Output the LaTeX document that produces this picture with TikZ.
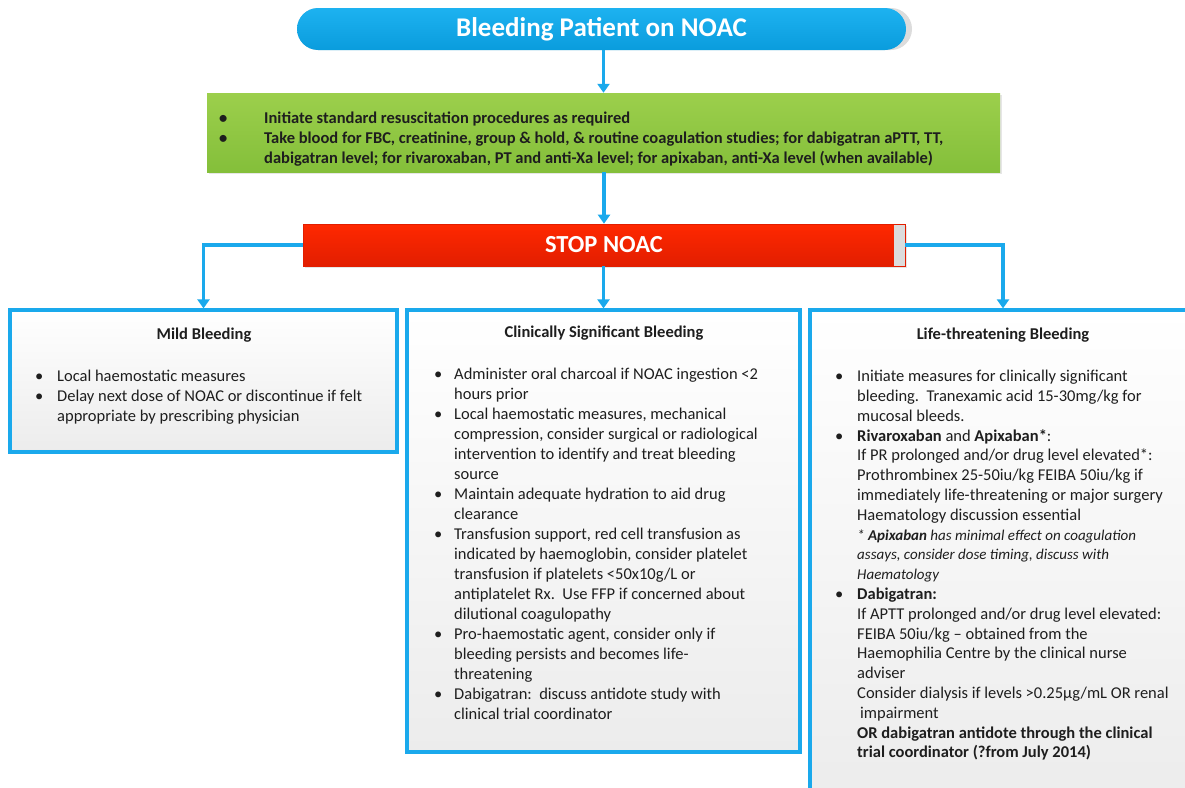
\documentclass[tikz,border=0pt]{standalone}
\usepackage{fontspec}
\setmainfont{Carlito}
\usetikzlibrary{arrows.meta,shadows}

\definecolor{titletop}{HTML}{1DB2F0}
\definecolor{titlebot}{HTML}{0A9CDD}
\definecolor{linkblue}{HTML}{1AA9EC}
\definecolor{greentop}{HTML}{9CCF4C}
\definecolor{greenbot}{HTML}{84BF3A}
\definecolor{redtop}{HTML}{FF2800}
\definecolor{redbot}{HTML}{E21E00}
\definecolor{capgray}{HTML}{DCDCDC}
\definecolor{boxgray}{HTML}{ECECEC}
\definecolor{inktext}{HTML}{1E1E1E}

\newcommand{\lifenote}[1]{{\fontsize{15}{19.8}\selectfont\itshape #1}}

\tikzset{
  link/.style={draw=linkblue, line width=3.2pt, -{Triangle[width=12pt,length=9pt]}},
  titlebar/.style={rounded corners=21pt, minimum width=609pt, minimum height=42pt,
    top color=titletop, bottom color=titlebot, text=white, inner sep=0pt,
    font=\fontsize{27}{32}\selectfont\bfseries},
  stopbar/.style={minimum width=602pt, minimum height=42pt, inner sep=0pt,
    top color=redtop, bottom color=redbot, draw=redbot, line width=0.6pt,
    text=white, font=\fontsize{24.5}{29}\selectfont\bfseries,
    drop shadow={opacity=.2,shadow xshift=1.5pt,shadow yshift=-1.5pt},
    path picture={\fill[capgray] ([xshift=-11pt]path picture bounding box.north east)
      rectangle (path picture bounding box.south east);}},
  greenbox/.style={minimum width=793pt, minimum height=79pt, inner sep=0pt,
    top color=greentop, bottom color=greenbot,
    drop shadow={opacity=.2,shadow xshift=1.5pt,shadow yshift=-1.5pt}},
  bleedbox/.style={draw=linkblue, line width=3.2pt, inner sep=0pt,
    top color=white, bottom color=boxgray,
    drop shadow={opacity=.25,shadow xshift=2pt,shadow yshift=-2pt}},
  boxhead/.style={text=inktext, font=\fontsize{16.5}{20}\selectfont\bfseries},
  boxbody/.style={anchor=north west, inner sep=0pt, text=inktext,
    font=\fontsize{16.5}{20}\selectfont},
}

\begin{document}
\begin{tikzpicture}[x=1pt,y=-1pt]
  \clip (0,0) rectangle (1185,787);

  % header bar
  \fill[capgray, rounded corners=21pt] (297,8) rectangle (912,50);
  \node[titlebar] (title) at (601.5,29) {Bleeding Patient on NOAC};

  % first steps
  \node[greenbox] (prep) at (603.5,132.5) {};
  \node[boxbody, font=\fontsize{16.5}{20}\selectfont\bfseries] (prepbody) at (219,109.5) {%
    \begin{tabular}{@{}p{45pt}@{}l@{}}
      \textbullet & Initiate standard resuscitation procedures as required\\
      \textbullet & Take blood for FBC, creatinine, group \& hold, \& routine coagulation studies; for dabigatran aPTT, TT,\\
                  & dabigatran level; for rivaroxaban, PT and anti-Xa level; for apixaban, anti-Xa level (when available)
    \end{tabular}};

  \node[stopbar] (stop) at (604,245) {STOP NOAC};

  % three grades of bleeding
  \node[bleedbox, minimum width=387pt, minimum height=142pt] (mild) at (203.5,381) {};
  \node[bleedbox, minimum width=393pt, minimum height=442pt] (clin) at (603.5,531) {};
  \node[bleedbox, minimum width=386pt, minimum height=490pt] (life) at (1003,555) {};

  \node[boxhead] (mildhead) at (204,335) {Mild Bleeding};
  \node[boxhead] (clinhead) at (604,333) {Clinically Significant Bleeding};
  \node[boxhead] (lifehead) at (1003,335) {Life-threatening Bleeding};

  \node[boxbody] (mildbody) at (35,367) {%
    \begin{tabular}{@{}p{22pt}@{}l@{}}
      \textbullet & Local haemostatic measures\\
      \textbullet & Delay next dose of NOAC or discontinue if felt\\
                  & appropriate by prescribing physician
    \end{tabular}};

  \node[boxbody] (clinbody) at (434,365.5) {%
    \begin{tabular}{@{}p{20pt}@{}l@{}}
      \textbullet & Administer oral charcoal if NOAC ingestion <2\\
                  & hours prior\\
      \textbullet & Local haemostatic measures, mechanical\\
                  & compression, consider surgical or radiological\\
                  & intervention to identify and treat bleeding\\
                  & source\\
      \textbullet & Maintain adequate hydration to aid drug\\
                  & clearance\\
      \textbullet & Transfusion support, red cell transfusion as\\
                  & indicated by haemoglobin, consider platelet\\
                  & transfusion if platelets <50x10g/L or\\
                  & antiplatelet Rx.\ \ Use FFP if concerned about\\
                  & dilutional coagulopathy\\
      \textbullet & Pro-haemostatic agent, consider only if\\
                  & bleeding persists and becomes life-\\
                  & threatening\\
      \textbullet & Dabigatran:\ \ discuss antidote study with\\
                  & clinical trial coordinator
    \end{tabular}};

  \node[boxbody, font=\fontsize{16.5}{19.8}\selectfont] (lifebody) at (835,367.6) {%
    \begin{tabular}{@{}p{22pt}@{}l@{}}
      \textbullet & Initiate measures for clinically significant\\
                  & bleeding.\ \ Tranexamic acid 15-30mg/kg for\\
                  & mucosal bleeds.\\
      \textbullet & \textbf{Rivaroxaban} and \textbf{Apixaban*}:\\
                  & If PR prolonged and/or drug level elevated*:\\
                  & Prothrombinex 25-50iu/kg FEIBA 50iu/kg if\\
                  & immediately life-threatening or major surgery\\
                  & Haematology discussion essential\\
                  & \lifenote{* \textbf{Apixaban} has minimal effect on coagulation}\\
                  & \lifenote{assays, consider dose timing, discuss with}\\
                  & \lifenote{Haematology}\\
      \textbullet & \textbf{Dabigatran:}\\
                  & If APTT prolonged and/or drug level elevated:\\
                  & FEIBA 50iu/kg – obtained from the\\
                  & Haemophilia Centre by the clinical nurse\\
                  & adviser\\
                  & Consider dialysis if levels >0.25µg/mL OR renal\\
                  & \hspace{3pt}impairment\\
                  & \textbf{OR dabigatran antidote through the clinical}\\
                  & \textbf{trial coordinator (?from July 2014)}
    \end{tabular}};

  % connectors
  \draw[link] (prep.north |- title.south) -- (prep.north);
  \draw[link] (stop.north |- prep.south) -- (stop.north);
  \draw[link] (stop.west) -| (mild.north);
  \draw[link] (clin.north |- stop.south) -- (clin.north);
  \draw[link] (stop.east) -| (life.north);
\end{tikzpicture}
\end{document}
